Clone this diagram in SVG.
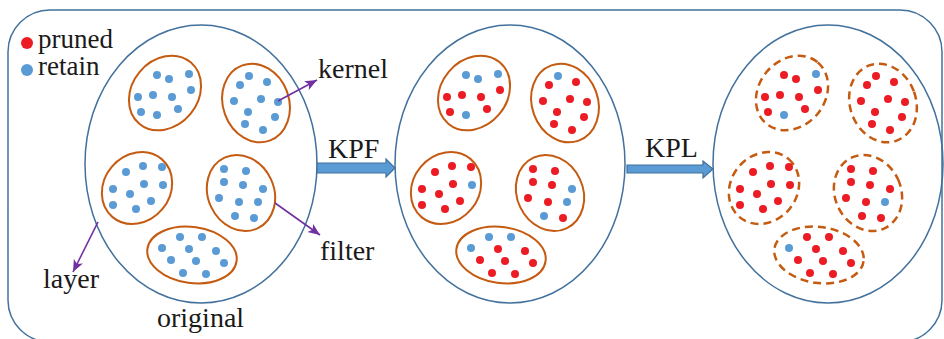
<svg xmlns="http://www.w3.org/2000/svg" width="944" height="339" viewBox="0 0 944 339">
<style>
.frame{fill:#fff;stroke:#41719C;stroke-width:1.5}
.layer{fill:none;stroke:#41719C;stroke-width:1.5}
.kern{fill:none;stroke:#C55A11;stroke-width:2}
.kernd{fill:none;stroke:#C55A11;stroke-width:2.5;stroke-dasharray:8 5}
.b{fill:#5B9BD5}
.r{fill:#EC1C24}
.ptr{stroke:#7030A0;stroke-width:1.6;fill:none}
.blk{fill:#5B9BD5;stroke:#41719C;stroke-width:1.2}
</style>
<defs>
<marker id="ah" markerUnits="userSpaceOnUse" markerWidth="14" markerHeight="12" refX="12" refY="5" orient="auto">
<path d="M0,0 L12,5 L0,10 L3,5 Z" fill="#7030A0"/>
</marker>
<g id="ells">
<ellipse cx="165" cy="93" rx="40" ry="33" transform="rotate(-50 165 93)"/>
<ellipse cx="256" cy="103" rx="33" ry="40" transform="rotate(-20 256 103)"/>
<ellipse cx="137" cy="188" rx="38" ry="33" transform="rotate(-50 137 188)"/>
<ellipse cx="241" cy="193" rx="33" ry="39" transform="rotate(-25 241 193)"/>
<ellipse cx="192" cy="255" rx="45" ry="28" transform="rotate(8 192 255)"/>
</g>
</defs>
<rect class="frame" x="8" y="10" width="934" height="332" rx="42"/>

<g id="legend">
<circle cx="27" cy="43" r="6" class="r"/>
<circle cx="27" cy="70" r="6" class="b"/>
<text style="font-family:'Liberation Serif';font-size:27px;fill:#1a1a1a" x="38" y="48">pruned</text>
<text style="font-family:'Liberation Serif';font-size:27px;fill:#1a1a1a" x="38" y="75">retain</text>
</g>

<g id="layer-original">
<ellipse class="layer" cx="201" cy="164" rx="116" ry="139"/>
<use href="#ells" class="kern"/>
<g class="b">
<circle cx="157" cy="75" r="4"/><circle cx="169" cy="79" r="4"/><circle cx="189" cy="74" r="4"/><circle cx="138" cy="97" r="4"/><circle cx="153" cy="95" r="4"/><circle cx="172" cy="97" r="4"/><circle cx="191" cy="90" r="4"/><circle cx="141" cy="112" r="4"/><circle cx="157" cy="115" r="4"/><circle cx="178" cy="109" r="4"/>
<circle cx="249" cy="76" r="4"/><circle cx="240" cy="85" r="4"/><circle cx="267" cy="82" r="4"/><circle cx="234" cy="101" r="4"/><circle cx="261" cy="99" r="4"/><circle cx="278" cy="102" r="4"/><circle cx="248" cy="112" r="4"/><circle cx="275" cy="117" r="4"/><circle cx="245" cy="124" r="4"/><circle cx="263" cy="130" r="4"/>
<circle cx="126" cy="172" r="4"/><circle cx="143" cy="166" r="4"/><circle cx="162" cy="167" r="4"/><circle cx="113" cy="189" r="4"/><circle cx="130" cy="194" r="4"/><circle cx="144" cy="184" r="4"/><circle cx="163" cy="185" r="4"/><circle cx="113" cy="205" r="4"/><circle cx="136" cy="209" r="4"/><circle cx="151" cy="201" r="4"/>
<circle cx="224" cy="169" r="4"/><circle cx="246" cy="171" r="4"/><circle cx="224" cy="182" r="4"/><circle cx="243" cy="185" r="4"/><circle cx="263" cy="189" r="4"/><circle cx="219" cy="198" r="4"/><circle cx="239" cy="202" r="4"/><circle cx="258" cy="202" r="4"/><circle cx="235" cy="216" r="4"/><circle cx="254" cy="218" r="4"/>
<circle cx="180" cy="237" r="4"/><circle cx="202" cy="237" r="4"/><circle cx="162" cy="248" r="4"/><circle cx="189" cy="249" r="4"/><circle cx="216" cy="251" r="4"/><circle cx="171" cy="260" r="4"/><circle cx="196" cy="261" r="4"/><circle cx="224" cy="263" r="4"/><circle cx="183" cy="273" r="4"/><circle cx="206" cy="274" r="4"/>
</g>
<text style="font-family:'Liberation Serif';font-size:28px;fill:#1a1a1a" x="157" y="327">original</text>
</g>

<g id="layer-kpf" transform="translate(309 0)">
<ellipse class="layer" cx="201" cy="164" rx="115" ry="139"/>
<use href="#ells" class="kern"/>
<circle class="b" cx="157" cy="75" r="4"/><circle class="b" cx="169" cy="79" r="4"/><circle class="b" cx="189" cy="74" r="4"/><circle class="r" cx="138" cy="97" r="4"/><circle class="r" cx="153" cy="95" r="4"/><circle class="r" cx="172" cy="97" r="4"/><circle class="r" cx="191" cy="90" r="4"/><circle class="r" cx="141" cy="112" r="4"/><circle class="b" cx="157" cy="115" r="4"/><circle class="r" cx="178" cy="109" r="4"/>
<circle class="b" cx="249" cy="76" r="4"/><circle class="r" cx="240" cy="85" r="4"/><circle class="r" cx="267" cy="82" r="4"/><circle class="r" cx="234" cy="101" r="4"/><circle class="r" cx="261" cy="99" r="4"/><circle class="r" cx="278" cy="102" r="4"/><circle class="r" cx="248" cy="112" r="4"/><circle class="r" cx="275" cy="117" r="4"/><circle class="r" cx="245" cy="124" r="4"/><circle class="r" cx="263" cy="130" r="4"/>
<circle class="r" cx="126" cy="172" r="4"/><circle class="r" cx="143" cy="166" r="4"/><circle class="r" cx="162" cy="167" r="4"/><circle class="r" cx="113" cy="189" r="4"/><circle class="r" cx="130" cy="194" r="4"/><circle class="r" cx="144" cy="184" r="4"/><circle class="b" cx="163" cy="185" r="4"/><circle class="r" cx="113" cy="205" r="4"/><circle class="r" cx="136" cy="209" r="4"/><circle class="r" cx="151" cy="201" r="4"/>
<circle class="r" cx="224" cy="169" r="4"/><circle class="r" cx="246" cy="171" r="4"/><circle class="r" cx="224" cy="182" r="4"/><circle class="r" cx="243" cy="185" r="4"/><circle class="b" cx="263" cy="189" r="4"/><circle class="r" cx="219" cy="198" r="4"/><circle class="r" cx="239" cy="202" r="4"/><circle class="b" cx="258" cy="202" r="4"/><circle class="b" cx="235" cy="216" r="4"/><circle class="r" cx="254" cy="218" r="4"/>
<circle class="b" cx="180" cy="237" r="4"/><circle class="b" cx="202" cy="237" r="4"/><circle class="b" cx="162" cy="248" r="4"/><circle class="r" cx="189" cy="249" r="4"/><circle class="r" cx="216" cy="251" r="4"/><circle class="r" cx="171" cy="260" r="4"/><circle class="r" cx="196" cy="261" r="4"/><circle class="r" cx="224" cy="263" r="4"/><circle class="r" cx="183" cy="273" r="4"/><circle class="r" cx="206" cy="274" r="4"/>
</g>

<g id="layer-kpl" transform="translate(627 0)">
<ellipse class="layer" cx="201" cy="164" rx="115" ry="139"/>
<use href="#ells" class="kernd"/>
<circle class="r" cx="157" cy="75" r="4"/><circle class="r" cx="169" cy="79" r="4"/><circle class="b" cx="189" cy="74" r="4"/><circle class="r" cx="138" cy="97" r="4"/><circle class="r" cx="153" cy="95" r="4"/><circle class="r" cx="172" cy="97" r="4"/><circle class="r" cx="191" cy="90" r="4"/><circle class="r" cx="141" cy="112" r="4"/><circle class="b" cx="157" cy="115" r="4"/><circle class="r" cx="178" cy="109" r="4"/>
<circle class="r" cx="249" cy="76" r="4"/><circle class="r" cx="240" cy="85" r="4"/><circle class="r" cx="267" cy="82" r="4"/><circle class="r" cx="234" cy="101" r="4"/><circle class="r" cx="261" cy="99" r="4"/><circle class="r" cx="278" cy="102" r="4"/><circle class="r" cx="248" cy="112" r="4"/><circle class="r" cx="275" cy="117" r="4"/><circle class="r" cx="245" cy="124" r="4"/><circle class="r" cx="263" cy="130" r="4"/>
<circle class="r" cx="126" cy="172" r="4"/><circle class="r" cx="143" cy="166" r="4"/><circle class="r" cx="162" cy="167" r="4"/><circle class="r" cx="113" cy="189" r="4"/><circle class="r" cx="130" cy="194" r="4"/><circle class="r" cx="144" cy="184" r="4"/><circle class="r" cx="163" cy="185" r="4"/><circle class="r" cx="113" cy="205" r="4"/><circle class="r" cx="136" cy="209" r="4"/><circle class="r" cx="151" cy="201" r="4"/>
<circle class="r" cx="224" cy="169" r="4"/><circle class="r" cx="246" cy="171" r="4"/><circle class="r" cx="224" cy="182" r="4"/><circle class="r" cx="243" cy="185" r="4"/><circle class="r" cx="263" cy="189" r="4"/><circle class="r" cx="219" cy="198" r="4"/><circle class="r" cx="239" cy="202" r="4"/><circle class="b" cx="258" cy="202" r="4"/><circle class="r" cx="235" cy="216" r="4"/><circle class="r" cx="254" cy="218" r="4"/>
<circle class="r" cx="180" cy="237" r="4"/><circle class="r" cx="202" cy="237" r="4"/><circle class="b" cx="162" cy="248" r="4"/><circle class="r" cx="189" cy="249" r="4"/><circle class="r" cx="216" cy="251" r="4"/><circle class="r" cx="171" cy="260" r="4"/><circle class="r" cx="196" cy="261" r="4"/><circle class="r" cx="224" cy="263" r="4"/><circle class="r" cx="183" cy="273" r="4"/><circle class="r" cx="206" cy="274" r="4"/>
</g>

<g id="label-kernel"><text style="font-family:'Liberation Serif';font-size:28px;fill:#1a1a1a" x="318" y="78">kernel</text></g>
<g id="label-filter"><text style="font-family:'Liberation Serif';font-size:28px;fill:#1a1a1a" x="320" y="260">filter</text></g>
<g id="label-layer"><text style="font-family:'Liberation Serif';font-size:28px;fill:#1a1a1a" x="43" y="288">layer</text></g>
<g id="label-kpf"><text style="font-family:'Liberation Serif';font-size:28px;fill:#1a1a1a" x="328" y="158">KPF</text></g>
<g id="label-kpl"><text style="font-family:'Liberation Serif';font-size:28px;fill:#1a1a1a" x="645" y="157">KPL</text></g>

<g id="connectors">
<line class="ptr" x1="278" y1="101" x2="317" y2="80" marker-end="url(#ah)"/>
<line class="ptr" x1="275" y1="203" x2="320" y2="235" marker-end="url(#ah)"/>
<line class="ptr" x1="98" y1="222" x2="73" y2="272" marker-end="url(#ah)"/>
<polygon class="blk" points="317,163 386,163 386,159 395,168 386,177 386,173 317,173"/>
<polygon class="blk" points="627,165 703,165 703,161 713,169 703,178 703,173 627,173"/>
</g>
</svg>
